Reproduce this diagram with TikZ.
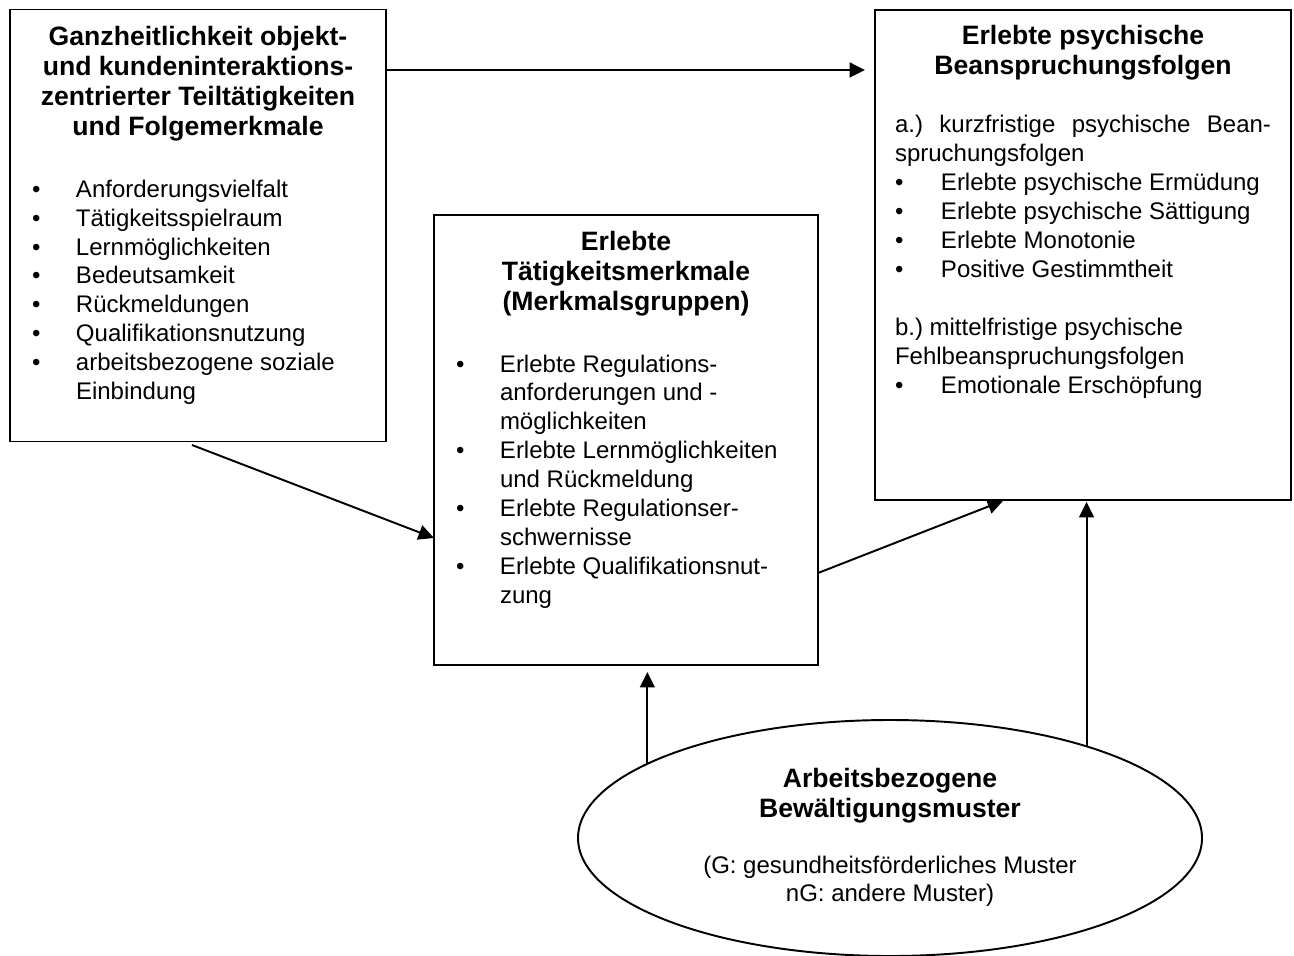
\documentclass[tikz,border=0pt]{standalone}
\usepackage{fontspec}
\setmainfont{Liberation Sans}
\usepackage{tikz}
\usetikzlibrary{arrows.meta,shapes.geometric}
\frenchspacing
\newlength{\pxu}
\setlength{\pxu}{0.02cm}
\tikzset{
    every node/.style={inner sep=0pt,outer sep=0pt},
    frame/.style={draw,line width=1.1pt,anchor=north west},
    oval/.style={ellipse,draw,line width=1.1pt},
    head/.style={font=\fontsize{26.6\pxu}{30\pxu}\selectfont\bfseries},
    body/.style={font=\fontsize{24\pxu}{28.9\pxu}\selectfont},
    link/.style={line width=1.1pt,-{Triangle[length=8.8pt,width=8.5pt]}}
}

\begin{document}
\begin{tikzpicture}[x=0.02cm,y=-0.02cm]
\useasboundingbox (0,0) rectangle (1294,956);
% the four blocks
\node[frame,minimum width=376\pxu,minimum height=432\pxu] (ganz) at (10,9.5) {};
\node[frame,minimum width=384\pxu,minimum height=450\pxu] (erlebt) at (434,215) {};
\node[frame,minimum width=416\pxu,minimum height=490\pxu] (folgen) at (875,10) {};
\node[oval,minimum width=624\pxu,minimum height=236\pxu] (muster) at (890,838) {};

% left block
\node[head,anchor=base] (ganzhead) at (198,45.7) {\begin{tabular}[t]{@{}c@{}}
Ganzheitlichkeit objekt-\\und kundeninteraktions-\\zentrierter Teiltätigkeiten\\und Folgemerkmale\end{tabular}};
\node[body,anchor=base west] (ganzlist) at (32,197.3) {\begin{tabular}[t]{@{}p{44\pxu}@{}l@{}}
\textbullet & Anforderungsvielfalt\\
\textbullet & Tätigkeitsspielraum\\
\textbullet & Lernmöglichkeiten\\
\textbullet & Bedeutsamkeit\\
\textbullet & Rückmeldungen\\
\textbullet & Qualifikationsnutzung\\
\textbullet & arbeitsbezogene soziale\\
 & Einbindung\end{tabular}};

% middle block
\node[head,anchor=base] (erlebthead) at (626,250.7) {\begin{tabular}[t]{@{}c@{}}
Erlebte\\Tätigkeitsmerkmale\\(Merkmalsgruppen)\end{tabular}};
\node[body,anchor=base west] (erlebtlist) at (456,372) {\begin{tabular}[t]{@{}p{44\pxu}@{}l@{}}
\textbullet & Erlebte Regulations-\\
 & anforderungen und -\\
 & möglichkeiten\\
\textbullet & Erlebte Lernmöglichkeiten\\
 & und Rückmeldung\\
\textbullet & Erlebte Regulationser-\\
 & schwernisse\\
\textbullet & Erlebte Qualifikationsnut-\\
 & zung\end{tabular}};

% right block
\node[head,anchor=base] (folgenhead) at (1083,45) {\begin{tabular}[t]{@{}c@{}}
Erlebte psychische\\Beanspruchungsfolgen\end{tabular}};
\node[body,anchor=base west] (folgenlist) at (895,133) {\begin{tabular}[t]{@{}p{46\pxu}@{}l@{}}
\multicolumn{2}{@{}l@{}}{\makebox[376\pxu][s]{a.) kurzfristige psychische Bean-}}\\
\multicolumn{2}{@{}l@{}}{spruchungsfolgen}\\
\textbullet & Erlebte psychische Ermüdung\\
\textbullet & Erlebte psychische Sättigung\\
\textbullet & Erlebte Monotonie\\
\textbullet & Positive Gestimmtheit\\
 & \\
\multicolumn{2}{@{}l@{}}{b.) mittelfristige psychische}\\
\multicolumn{2}{@{}l@{}}{Fehlbeanspruchungsfolgen}\\
\textbullet & Emotionale Erschöpfung\end{tabular}};

% ellipse text
\node[head,anchor=base] (musterhead) at (890,787) {\begin{tabular}[t]{@{}c@{}}
Arbeitsbezogene\\Bewältigungsmuster\end{tabular}};
\node[body,anchor=base] (musternote) at (890,873) {\begin{tabular}[t]{@{}c@{}}
(G: gesundheitsförderliches Muster\\nG: andere Muster)\end{tabular}};

% arrows
\coordinate (row1) at (0,70);
\coordinate (start2) at (192,445);
\coordinate (row2) at (0,538);
\coordinate (row3) at (0,573);
\coordinate (col3) at (1005,0);
\draw[link,shorten >=10\pxu] (ganz.east |- row1) -- (folgen.west |- row1);
\draw[link] (start2) -- (erlebt.west |- row2);
\draw[link,shorten >=2\pxu] (erlebt.east |- row3) -- (folgen.south -| col3);
\draw[link,shorten >=7\pxu] (muster.163) -- (muster.163 |- erlebt.south);
\draw[link,shorten >=2\pxu] (muster.25) -- (muster.25 |- folgen.south);
\end{tikzpicture}
\end{document}
